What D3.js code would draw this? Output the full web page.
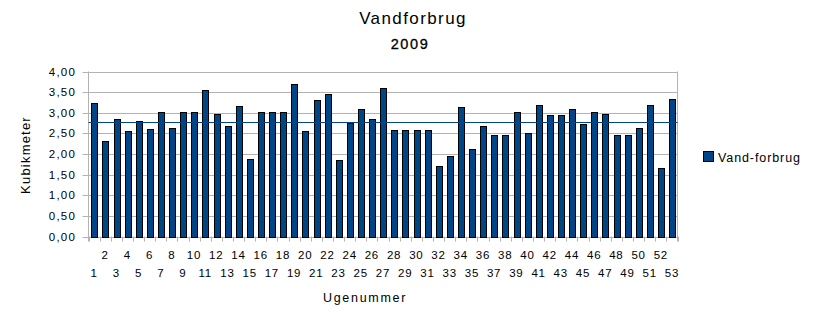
<!DOCTYPE html>
<html>
<head>
<meta charset="utf-8">
<script src="https://cdn.jsdelivr.net/npm/d3@7"></script>
<style>
  html, body { margin: 0; padding: 0; background: #ffffff; }
  svg { display: block; font-family: "Liberation Sans", Arial, sans-serif; }
</style>
</head>
<body>
<svg id="chart" width="824" height="322"></svg>
<script>
const weeks = d3.range(1, 54);
const values = [3.23, 2.31, 2.86, 2.55, 2.80, 2.60, 3.03, 2.62, 3.03, 3.03,
                3.55, 2.96, 2.69, 3.16, 1.87, 3.01, 3.01, 3.01, 3.69, 2.56,
                3.30, 3.46, 1.85, 2.75, 3.08, 2.84, 3.59, 2.57, 2.57, 2.57,
                2.57, 1.72, 1.94, 3.13, 2.11, 2.69, 2.45, 2.47, 3.01, 2.52,
                3.18, 2.94, 2.94, 3.08, 2.72, 3.03, 2.96, 2.45, 2.47, 2.62,
                3.18, 1.65, 3.33];
const averageValue = [2.78];
const yTicks = [0, 0.5, 1, 1.5, 2, 2.5, 3, 3.5, 4];
const title = "Vandforbrug";
const subtitle = "2009";
const seriesName = "Vand-forbrug";
const xTitle = "Ugenummer";
const yTitle = "Kubikmeter";

const svg = d3.select("#chart");
const pLeft = 88.5, pRight = 677.5, pTop = 71.5, pBottom = 236.5;
const barColor = "#004586";
const gridColor = "#b3b3b3";
const fmt = d => d.toFixed(2).replace(".", ",");

const x = d3.scaleBand().domain(weeks).range([pLeft, pRight]).paddingInner(0.5).paddingOuter(0.25);
const y = d3.scaleLinear().domain([0, 4]).range([pBottom, pTop]);

// gridlines
svg.append("g").selectAll("line").data(yTicks).join("line")
  .attr("x1", pLeft - 6).attr("x2", pRight)
  .attr("y1", d => Math.round(y(d)) + 0.5).attr("y2", d => Math.round(y(d)) + 0.5)
  .attr("stroke", gridColor).attr("stroke-width", 1);

// plot borders (left & right)
svg.append("line").attr("x1", pLeft).attr("x2", pLeft).attr("y1", pTop).attr("y2", pBottom + 5)
  .attr("stroke", gridColor);
svg.append("line").attr("x1", pRight).attr("x2", pRight).attr("y1", pTop).attr("y2", pBottom + 5)
  .attr("stroke", gridColor);

// x ticks at category boundaries
const boundaries = d3.range(0, weeks.length + 1).map(i => pLeft + i * (pRight - pLeft) / weeks.length);
svg.append("g").selectAll("line").data(boundaries).join("line")
  .attr("x1", d => Math.round(d) + 0.5).attr("x2", d => Math.round(d) + 0.5)
  .attr("y1", pBottom).attr("y2", pBottom + 5)
  .attr("stroke", gridColor);

// bars
svg.append("g").selectAll("rect").data(values).join("rect")
  .attr("x", (d, i) => Math.round(x(weeks[i])) + 0.5)
  .attr("y", d => Math.round(y(d)) + 0.5)
  .attr("width", Math.round(x.bandwidth()))
  .attr("height", d => Math.round(y(0)) - Math.round(y(d)))
  .attr("fill", barColor).attr("stroke", "#000").attr("stroke-width", 1);

// average line
svg.append("g").selectAll("line").data(averageValue).join("line")
  .attr("x1", pLeft).attr("x2", pRight)
  .attr("y1", d => Math.round(y(d)) + 0.5).attr("y2", d => Math.round(y(d)) + 0.5)
  .attr("stroke", barColor).attr("stroke-width", 1);

// y tick labels
svg.append("g").selectAll("text").data(yTicks).join("text")
  .attr("x", 76).attr("y", d => y(d) + 4)
  .attr("text-anchor", "end").attr("font-size", 11.5).attr("letter-spacing", 1.2)
  .attr("fill", "#000").text(fmt);

// x tick labels
svg.append("g").selectAll("text").data(weeks).join("text")
  .attr("x", d => x(d) + x.bandwidth() / 2)
  .attr("y", d => d % 2 === 0 ? 259 : 276.5)
  .attr("text-anchor", "middle").attr("font-size", 11.5).attr("letter-spacing", 0.8)
  .attr("fill", "#000").text(d => d);

// titles
svg.append("text").attr("x", 413).attr("y", 23.5).attr("text-anchor", "middle")
  .attr("font-size", 17).attr("letter-spacing", 1.4).text(title);
svg.append("text").attr("x", 410).attr("y", 48.5).attr("text-anchor", "middle")
  .attr("font-size", 14.5).attr("stroke", "#000").attr("stroke-width", 0.3)
  .attr("letter-spacing", 1.6).text(subtitle);

svg.append("text").attr("x", 365).attr("y", 301.5).attr("text-anchor", "middle")
  .attr("font-size", 12.5).attr("letter-spacing", 1.7).text(xTitle);

svg.append("text").attr("transform", "translate(30,155) rotate(-90)").attr("text-anchor", "middle")
  .attr("font-size", 13).attr("letter-spacing", 1.2).text(yTitle);

// legend
const lg = svg.append("g").attr("transform", "translate(703.5,151.5)");
lg.append("rect").attr("width", 10).attr("height", 10).attr("fill", barColor).attr("stroke", "#000");
lg.append("text").attr("x", 14.5).attr("y", 10).attr("font-size", 12.5).attr("letter-spacing", 0.9).text(seriesName);
</script>
</body>
</html>
